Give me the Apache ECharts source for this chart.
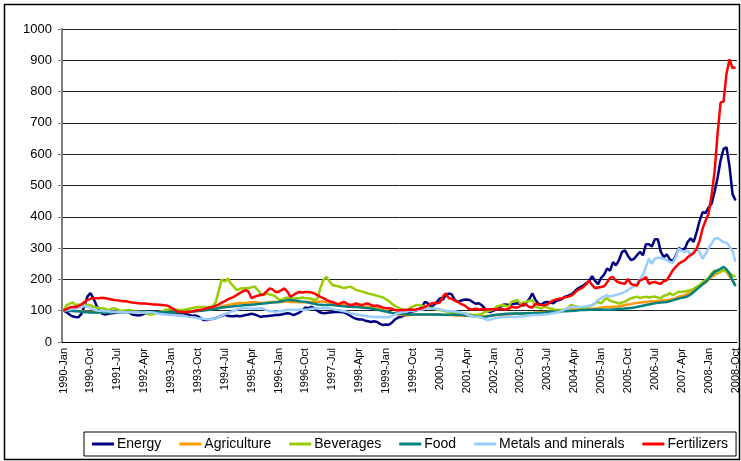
<!DOCTYPE html>
<html>
<head>
<meta charset="UTF-8">
<title>Commodity price indices</title>
<script src="https://cdn.jsdelivr.net/npm/echarts@6/dist/echarts.min.js"></script>
<style>
  body { margin: 0; padding: 0; background: #fff; }
  #chart { width: 741px; height: 461px; }
</style>
</head>
<body>
<div id="chart"></div>
<script>
// monthly index values, 1990-Jan .. 2008-Oct (one row per year)
var energy = [
  100, 95, 88, 82, 80, 79, 90, 115, 145, 156, 140, 118,
  100, 90, 88, 90, 92, 93, 94, 96, 97, 98, 94, 88,
  86, 85, 86, 90, 94, 97, 97, 95, 94, 95, 93, 90,
  88, 90, 92, 93, 92, 90, 86, 84, 85, 82, 76, 70,
  70, 72, 74, 76, 80, 84, 87, 84, 82, 82, 84, 82,
  84, 86, 88, 90, 88, 84, 80, 82, 82, 84, 85, 86,
  86, 88, 90, 92, 90, 86, 90, 94, 102, 110, 108, 112,
  108, 100, 94, 92, 93, 94, 95, 96, 97, 96, 94, 90,
  84, 78, 74, 72, 72, 68, 66, 64, 66, 64, 58, 54,
  56, 55, 62, 72, 78, 80, 84, 88, 96, 98, 100, 104,
  112, 128, 124, 112, 118, 128, 140, 135, 150, 155, 152, 135,
  128, 132, 135, 136, 134, 128, 122, 124, 118, 108, 98, 96,
  100, 104, 110, 118, 120, 118, 120, 122, 124, 120, 116, 126,
  138, 155, 135, 122, 120, 126, 128, 126, 124, 132, 134, 138,
  145, 148, 152, 160, 170, 175, 180, 188, 195, 210, 195, 185,
  205, 215, 235, 228, 255, 245, 262, 288, 293, 275, 262, 265,
  277, 288, 277, 312, 312, 305, 328, 328, 288, 271, 280, 264,
  258, 275, 300, 296, 298, 320, 331, 320, 351, 388, 415, 412,
  430, 442, 480, 525, 580, 617, 622, 560, 473, 452
];
var agriculture = [
  100, 101, 101, 100, 100, 99, 98, 97, 97, 96, 96, 95,
  95, 95, 95, 96, 96, 96, 96, 95, 95, 95, 96, 96,
  96, 96, 96, 96, 95, 95, 95, 95, 95, 95, 96, 96,
  96, 96, 96, 97, 97, 97, 98, 98, 99, 100, 102, 104,
  105, 106, 107, 108, 110, 114, 116, 118, 120, 122, 123, 124,
  125, 125, 126, 126, 127, 126, 125, 125, 126, 127, 128, 128,
  128, 128, 129, 129, 128, 128, 128, 127, 127, 128, 128, 128,
  128, 128, 129, 129, 128, 126, 124, 123, 121, 120, 118, 118,
  118, 117, 116, 115, 114, 113, 112, 111, 110, 108, 106, 102,
  99, 96, 93, 90, 88, 87, 86, 85, 86, 87, 88, 88,
  88, 88, 88, 88, 88, 87, 87, 87, 86, 86, 86, 85,
  85, 85, 84, 84, 83, 83, 83, 83, 82, 82, 83, 84,
  85, 86, 86, 87, 87, 88, 89, 90, 91, 91, 91, 92,
  93, 93, 94, 94, 95, 96, 96, 97, 98, 100, 101, 102,
  103, 104, 104, 104, 104, 104, 103, 104, 105, 106, 107, 108,
  110, 111, 112, 112, 113, 113, 114, 116, 118, 120, 121, 123,
  125, 126, 127, 128, 129, 130, 130, 131, 132, 133, 134, 135,
  137, 140, 145, 147, 150, 155, 160, 166, 172, 177, 185, 190,
  200, 208, 215, 219, 224, 229, 224, 210, 197, 182
];
var beverages = [
  100, 118, 122, 127, 118, 120, 118, 120, 118, 118, 113, 110,
  108, 108, 106, 102, 106, 108, 104, 100, 100, 101, 102, 100,
  98, 97, 96, 94, 90, 88, 88, 92, 96, 98, 102, 104,
  106, 105, 103, 102, 102, 104, 106, 108, 110, 112, 112, 112,
  112, 112, 115, 128, 165, 200, 193, 203, 187, 177, 166, 170,
  172, 172, 172, 175, 177, 166, 155, 150, 155, 152, 150, 145,
  136, 134, 140, 142, 140, 138, 140, 140, 142, 140, 140, 138,
  134, 138, 172, 198, 208, 195, 182, 180, 178, 175, 172, 175,
  177, 172, 166, 164, 161, 158, 155, 153, 150, 148, 145, 142,
  136, 130, 122, 115, 110, 106, 103, 102, 108, 113, 118, 118,
  116, 113, 110, 108, 106, 103, 102, 100, 98, 96, 92, 92,
  92, 92, 91, 90, 88, 86, 86, 87, 90, 96, 98, 101,
  104, 113, 116, 118, 116, 113, 128, 131, 134, 122, 126, 128,
  132, 134, 113, 110, 107, 113, 110, 107, 105, 102, 102, 102,
  103, 110, 118, 115, 113, 110, 107, 110, 113, 118, 123, 128,
  123, 134, 140, 132, 129, 126, 123, 126, 129, 135, 140, 142,
  145, 140, 143, 145, 142, 144, 145, 142, 140, 148, 150, 156,
  150, 155, 161, 160, 161, 164, 166, 170, 176, 182, 192, 198,
  203, 219, 229, 219, 229, 231, 225, 219, 213, 208
];
var food = [
  100, 100, 99, 99, 98, 98, 97, 96, 95, 94, 94, 94,
  94, 94, 94, 94, 94, 95, 95, 95, 95, 96, 96, 96,
  97, 97, 97, 97, 96, 96, 96, 95, 95, 95, 95, 95,
  95, 95, 95, 95, 96, 96, 97, 97, 98, 99, 100, 101,
  102, 103, 104, 106, 108, 110, 111, 112, 113, 114, 115, 116,
  117, 118, 118, 119, 120, 121, 122, 123, 124, 125, 126, 127,
  128, 130, 132, 134, 134, 133, 132, 130, 129, 128, 126, 124,
  122, 120, 119, 118, 118, 118, 118, 117, 116, 115, 114, 113,
  113, 112, 112, 111, 110, 109, 108, 107, 105, 103, 101, 99,
  97, 95, 93, 92, 91, 90, 89, 88, 88, 88, 88, 88,
  88, 88, 88, 88, 88, 88, 88, 87, 87, 87, 87, 87,
  86, 86, 86, 85, 84, 83, 82, 81, 80, 80, 82, 84,
  86, 87, 88, 89, 90, 90, 91, 91, 91, 91, 91, 92,
  92, 92, 93, 93, 93, 94, 95, 96, 97, 97, 97, 98,
  98, 99, 99, 100, 101, 102, 102, 102, 103, 103, 104, 104,
  104, 103, 103, 103, 104, 105, 106, 106, 107, 108, 109, 110,
  112, 114, 116, 118, 120, 122, 124, 125, 126, 127, 128, 130,
  133, 136, 139, 141, 143, 146, 152, 160, 168, 176, 184, 192,
  202, 214, 224, 229, 234, 240, 232, 219, 197, 178
];
var metals = [
  100, 102, 104, 106, 108, 110, 112, 115, 113, 108, 104, 101,
  100, 99, 98, 98, 97, 97, 96, 96, 95, 95, 95, 95,
  95, 95, 94, 94, 95, 95, 94, 92, 90, 89, 88, 87,
  86, 86, 85, 84, 83, 82, 80, 79, 78, 76, 75, 74,
  73, 72, 74, 76, 80, 84, 88, 92, 96, 100, 103, 106,
  108, 108, 107, 107, 106, 107, 108, 106, 102, 98, 98, 97,
  98, 99, 101, 103, 103, 102, 103, 103, 103, 103, 104, 106,
  107, 108, 108, 109, 108, 107, 105, 103, 102, 100, 98, 96,
  92, 90, 88, 86, 85, 84, 82, 81, 80, 80, 80, 79,
  79, 80, 83, 88, 92, 94, 96, 98, 99, 100, 101, 102,
  104, 106, 107, 108, 107, 106, 104, 102, 100, 99, 98, 98,
  96, 94, 92, 88, 84, 82, 81, 80, 78, 74, 70, 72,
  75, 77, 78, 80, 80, 81, 81, 80, 81, 82, 82, 84,
  85, 86, 86, 86, 87, 88, 89, 90, 92, 94, 96, 100,
  105, 108, 112, 113, 113, 112, 113, 114, 116, 118, 125, 134,
  140, 145, 150, 145, 148, 150, 153, 156, 161, 166, 172, 180,
  188, 200, 215, 240, 266, 250, 266, 269, 268, 266, 261, 256,
  253, 271, 298, 292, 287, 293, 277, 290, 298, 287, 266, 282,
  300, 314, 330, 332, 326, 319, 318, 305, 290, 256
];
var fertilizers = [
  100, 105, 110, 112, 112, 115, 120, 128, 134, 138, 140, 140,
  140, 141, 140, 138, 136, 134, 133, 132, 130, 130, 128, 126,
  125, 124, 123, 123, 122, 121, 120, 120, 119, 118, 117, 116,
  110, 105, 98, 96, 96, 95, 95, 97, 100, 102, 103, 105,
  108, 110, 112, 116, 120, 126, 130, 136, 140, 144, 150, 156,
  162, 166, 160, 140, 145, 148, 150, 152, 162, 171, 168, 160,
  160, 166, 171, 160, 144, 150, 156, 160, 158, 160, 160, 158,
  155, 150, 144, 140, 135, 130, 128, 124, 120, 125, 128, 122,
  118, 120, 123, 120, 118, 122, 123, 118, 115, 117, 114, 110,
  108, 108, 106, 102, 101, 102, 102, 103, 104, 103, 104, 106,
  108, 112, 118, 122, 125, 124, 126, 145, 155, 140, 138, 132,
  128, 122, 118, 112, 104, 105, 106, 104, 105, 105, 104, 105,
  105, 104, 106, 105, 104, 106, 112, 110, 110, 115, 122, 118,
  112, 110, 122, 120, 118, 117, 120, 128, 133, 136, 138, 140,
  143, 145, 148, 155, 165, 170, 175, 185, 195, 182, 172, 174,
  176, 178, 190, 205, 208, 195, 190, 188, 186, 202, 186, 182,
  180, 197, 200, 208, 186, 190, 192, 188, 186, 195, 197, 213,
  229, 240, 250, 256, 261, 271, 278, 284, 298, 324, 363, 388,
  410, 470, 545, 665, 765, 768, 858, 903, 875, 878
];

var monthNames = ['Jan', 'Feb', 'Mar', 'Apr', 'May', 'Jun', 'Jul', 'Aug', 'Sep', 'Oct', 'Nov', 'Dec'];
var months = [];
for (var y = 1990; y <= 2008; y++) {
  for (var m = 0; m < 12; m++) {
    if (months.length < energy.length) months.push(y + '-' + monthNames[m]);
  }
}

var seriesList = [
  { name: 'Energy', data: energy, color: '#000080' },
  { name: 'Agriculture', data: agriculture, color: '#FF9900' },
  { name: 'Beverages', data: beverages, color: '#99CC00' },
  { name: 'Food', data: food, color: '#008080' },
  { name: 'Metals and minerals', data: metals, color: '#99CCFF' },
  { name: 'Fertilizers', data: fertilizers, color: '#FF0000' }
];

var chart = echarts.init(document.getElementById('chart'));
chart.setOption({
  animation: false,
  backgroundColor: '#fff',
  textStyle: { fontFamily: 'Liberation Sans, Arial, sans-serif', color: '#000' },
  grid: { left: 62, right: 2, top: 29, bottom: 119 },
  xAxis: {
    type: 'category',
    data: months,
    boundaryGap: true,
    axisLine: { lineStyle: { color: '#000', width: 1 } },
    axisTick: { interval: 0, length: 4, lineStyle: { color: '#000' } },
    axisLabel: { interval: 8, rotate: 90, fontSize: 11, color: '#000', margin: 6 },
    splitLine: { show: false }
  },
  yAxis: {
    type: 'value',
    min: 0,
    max: 1000,
    interval: 100,
    axisLine: { show: true, lineStyle: { color: '#808080', width: 2 } },
    axisTick: { show: true, length: 4, lineStyle: { color: '#808080' } },
    axisLabel: { fontSize: 13, color: '#000', margin: 10, formatter: function (v) { return String(v); } },
    splitLine: { lineStyle: { color: '#222', width: 1 } }
  },
  legend: {
    left: 84,
    top: 432,
    padding: [5, 8],
    itemWidth: 22,
    itemHeight: 3,
    itemGap: 18,
    icon: 'rect',
    borderColor: '#000',
    borderWidth: 1,
    textStyle: { fontSize: 14, color: '#000', padding: [0, 0, 0, -2] },
    data: seriesList.map(function (s) { return s.name; })
  },
  graphic: [{
    type: 'rect',
    shape: { x: 4.5, y: 4.5, width: 735, height: 455 },
    style: { fill: 'none', stroke: '#000', lineWidth: 1.5 },
    silent: true,
    z: 100
  }],
  series: seriesList.map(function (s) {
    return {
      name: s.name,
      type: 'line',
      data: s.data,
      showSymbol: false,
      symbol: 'none',
      color: s.color,
      lineStyle: { color: s.color, width: 2.5 }
    };
  })
});
</script>
</body>
</html>
